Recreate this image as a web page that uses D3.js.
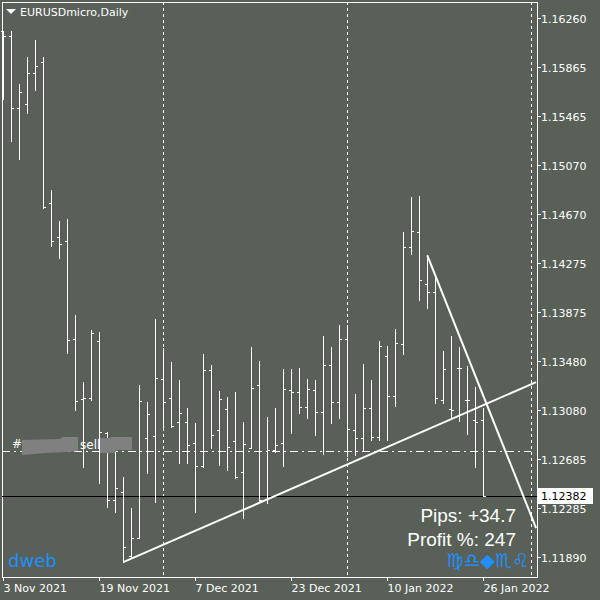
<!DOCTYPE html>
<html><head><meta charset="utf-8">
<script src="https://cdn.jsdelivr.net/npm/d3@7/dist/d3.min.js"></script>
<style>body{margin:0;background:#586058}</style></head>
<body><svg id="c" width="600" height="600"></svg>
<script>
const opens  = [116155,116114,115530,115563,115814,115903,114760,114484,114451,113657,113170,113178,113640,112894,112351,112416,111897,112043,112854,112870,113332,113178,112984,112984,112813,112627,113405,112919,113089,112829,112578,112773,113284,112359,112756,112813,113243,113227,113105,113243,113065,113446,113146,113657,112919,112854,113097,112862,113519,113194,113616,114403,114524,114103,114038,113162,113089,113421,113162,113000,113000];
const highs  = [116155,116155,115725,115944,116082,115944,114865,114614,114630,113851,113308,113730,113713,112900,112740,112538,112286,113284,113146,113819,113584,113470,113324,113097,112975,113535,113446,113235,113186,113227,112984,113592,113478,113024,113097,113413,113413,113422,113332,113324,113681,113592,113770,113770,113211,113454,113324,113640,113600,113738,114524,114808,114816,114338,114160,113559,113681,113592,113438,113267,113097];
const lows   = [115603,115262,115117,115490,115676,114720,114411,114314,113543,113081,112619,113160,112489,112294,112254,111848,111880,112040,112570,112335,112919,112943,112651,112651,112254,112620,112773,112635,112594,112529,112205,112770,112343,112327,112740,112627,112894,113057,113016,112878,112724,112975,113016,112708,112716,112748,112838,112838,112838,113113,113535,114346,113973,113908,113138,113138,113016,112992,112886,112619,112383];
const closes = [116114,115530,115660,115814,115871,114727,114451,114427,113649,113154,113178,113705,112902,112351,112448,111970,112043,113154,113048,113340,113146,112951,113057,112797,112627,113405,112878,113170,112781,112538,112805,113259,112351,112756,112797,113251,113227,113105,113251,113065,113446,113146,113657,112927,112854,113097,112862,113600,113194,113624,114403,114533,114135,114038,113178,113413,113081,113421,113162,112984,112382];
const yTicks = [1.16260,1.15865,1.15465,1.15070,1.14670,1.14275,1.13875,1.13480,1.13080,1.12685,1.12285,1.11890];
const xTickIdx = [0,12,24,36,48,60];
const xTickLabels = ["3 Nov 2021","19 Nov 2021","7 Dec 2021","23 Dec 2021","10 Jan 2022","26 Jan 2022"];
const vLineIdx = [20,43];
const trendUp = [[15,1.11848],[66.6,1.13308]];
const trendDown = [[53,1.14336],[66.6,1.12124]];
const orderPrice = 1.12748;
const bidPrice = 1.12382;

const svg = d3.select("#c");
const L=2, R=537, T=2, B=577;
const x = d3.scaleLinear().domain([0,66.7]).range([3.3,536.9]);
const y = d3.scaleLinear().domain([1.1189,1.1626]).range([557,18]);
const font="DejaVu Sans, sans-serif";
const big="Liberation Sans, Arial, sans-serif";
const p = v=>v/100000;

svg.append("rect").attr("x",L+0.5).attr("y",T+0.5).attr("width",R-L).attr("height",B-T).attr("fill","none").attr("stroke","#fff");
svg.selectAll(".vl").data(vLineIdx).join("line").attr("x1",d=>Math.round(x(d))+0.5).attr("x2",d=>Math.round(x(d))+0.5)
 .attr("y1",T).attr("y2",B).attr("stroke","#fff").attr("stroke-dasharray","3,3");
svg.append("line").attr("x1",531.5).attr("x2",531.5).attr("y1",T).attr("y2",B).attr("stroke","#fff").attr("stroke-dasharray","3,3");
svg.append("line").attr("x1",L).attr("x2",531).attr("y1",Math.round(y(orderPrice))+0.5).attr("y2",Math.round(y(orderPrice))+0.5)
 .attr("stroke","#fff").attr("stroke-dasharray","8,4,2,4");
svg.append("line").attr("x1",L).attr("x2",R).attr("y1",Math.round(y(bidPrice))+0.5).attr("y2",Math.round(y(bidPrice))+0.5).attr("stroke","#000");

const g = svg.append("g").attr("stroke","#fff").attr("stroke-width",1);
opens.forEach((o,i)=>{
  const cx=Math.round(x(i))+0.5;
  g.append("line").attr("x1",cx).attr("x2",cx).attr("y1",Math.round(y(p(highs[i])))).attr("y2",Math.round(y(p(lows[i])))+1);
  g.append("line").attr("x1",cx-2.5).attr("x2",cx).attr("y1",Math.round(y(p(o)))+0.5).attr("y2",Math.round(y(p(o)))+0.5);
  g.append("line").attr("x1",cx).attr("x2",cx+2.5).attr("y1",Math.round(y(p(closes[i])))+0.5).attr("y2",Math.round(y(p(closes[i])))+0.5);
});
const ln = d3.line().x(d=>x(d[0])).y(d=>y(d[1]));
svg.append("clipPath").attr("id","cl").append("rect").attr("x",L).attr("y",T).attr("width",R-L).attr("height",B-T);
svg.append("path").attr("d",ln(trendUp)).attr("stroke","#fff").attr("stroke-width",2).attr("fill","none").attr("clip-path","url(#cl)");
svg.append("path").attr("d",ln(trendDown)).attr("stroke","#fff").attr("stroke-width",2).attr("fill","none").attr("clip-path","url(#cl)");

svg.append("text").attr("x",12).attr("y",448).attr("fill","#fff").attr("font-family",font).attr("font-size",12).text("#.");
svg.append("path").attr("d","M22,440 L60,439 L62,437 L78,437 L78,451 L68,452 L45,453 L22,455 Z").attr("fill","#808080");
svg.append("text").attr("x",80).attr("y",449).attr("fill","#fff").attr("font-family",font).attr("font-size",12).text("sell");
svg.append("path").attr("d","M100,438 L109,438 L112,437 L132,437 L132,450 L117,450 L115,453 L100,453 Z").attr("fill","#808080");

const ya = svg.append("g");
yTicks.forEach(v=>{
  const yy=Math.round(y(v))+0.5;
  ya.append("line").attr("x1",R).attr("x2",R+4).attr("y1",yy).attr("y2",yy).attr("stroke","#fff");
  ya.append("text").attr("x",541).attr("y",yy+4).attr("fill","#fff").attr("font-family",font).attr("font-size",11).text(v.toFixed(5));
});
const by=Math.round(y(bidPrice));
svg.append("rect").attr("x",537).attr("y",by-8).attr("width",56).attr("height",16).attr("fill","#fff");
svg.append("text").attr("x",541).attr("y",by+4).attr("fill","#000").attr("font-family",font).attr("font-size",11).text(bidPrice.toFixed(5));

xTickIdx.forEach((d,i)=>{
  const xx=Math.round(x(d))+0.5;
  svg.append("line").attr("x1",xx).attr("x2",xx).attr("y1",B).attr("y2",B+4).attr("stroke","#fff");
  svg.append("text").attr("x",xx).attr("y",B+15).attr("fill","#fff").attr("font-family",font).attr("font-size",11).text(xTickLabels[i]);
});

svg.append("path").attr("d","M6,9 L16,9 L11,14 Z").attr("fill","#fff");
svg.append("text").attr("x",20).attr("y",16).attr("fill","#fff").attr("font-family",font).attr("font-size",11).text("EURUSDmicro,Daily");

svg.append("text").attr("x",516).attr("y",522).attr("text-anchor","end").attr("fill","#fff").attr("font-family",big).attr("font-size",19).text("Pips: +34.7");
svg.append("text").attr("x",516).attr("y",546).attr("text-anchor","end").attr("fill","#fff").attr("font-family",big).attr("font-size",19).text("Profit %: 247");
svg.append("text").attr("x",529).attr("y",567).attr("text-anchor","end").attr("fill","#1e90ff").attr("font-family",font).attr("font-size",19).text("♍♎◆♏♌");
svg.append("text").attr("x",8).attr("y",567).attr("fill","#1e90ff").attr("font-family",font).attr("font-size",18).text("dweb");
</script></body></html>
